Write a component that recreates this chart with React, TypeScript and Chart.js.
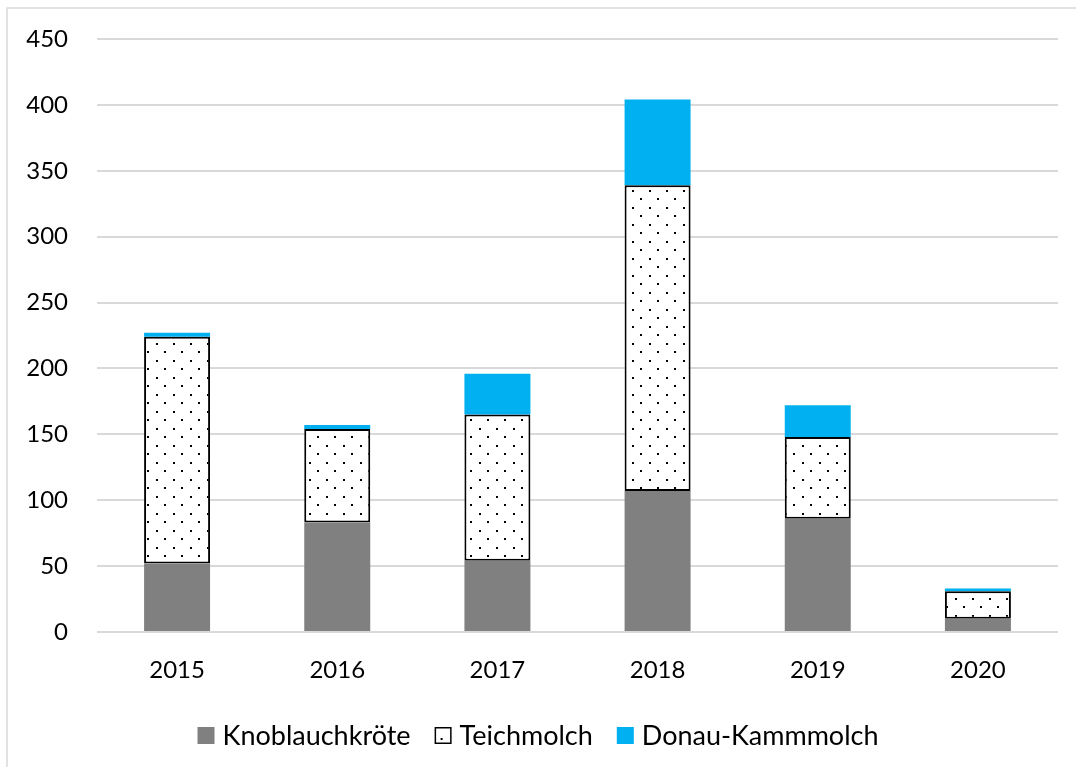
import React, { useEffect, useRef } from 'react';
import { Chart, registerables } from 'chart.js';

Chart.register(...registerables);

const categories = ['2015', '2016', '2017', '2018', '2019', '2020'];
const knoblauchkroete = [52, 83, 54, 107, 86, 10];
const teichmolch = [172, 71, 111, 232, 62, 21];
const donauKammmolch = [3, 3, 31, 65, 24, 2];
const seriesNames = ['Knoblauchkröte', 'Teichmolch', 'Donau-Kammmolch'];
const yMax = 450;
const yStep = 50;

const FONT = 'Lato, "Open Sans", sans-serif';
const GREY = '#808080';
const BLUE = '#00B0F0';
const GRID = '#d9d9d9';

function makeDotPattern(): CanvasPattern | string {
  const c = document.createElement('canvas');
  c.width = 17;
  c.height = 17;
  const x = c.getContext('2d');
  if (!x) return '#fff';
  x.fillStyle = '#fff';
  x.fillRect(0, 0, 17, 17);
  x.fillStyle = '#000';
  x.fillRect(3, 3, 2, 2);
  x.fillRect(11, 11, 2, 2);
  const p = x.createPattern(c, 'repeat');
  return p || '#fff';
}

export default function App() {
  const ref = useRef<HTMLCanvasElement | null>(null);

  useEffect(() => {
    const canvas = ref.current;
    if (!canvas) return;
    const dots = makeDotPattern();

    const framePlugin = {
      id: 'frame',
      beforeDraw(chart: any) {
        const ctx = chart.ctx;
        ctx.save();
        ctx.fillStyle = '#fff';
        ctx.fillRect(0, 0, chart.width, chart.height);
        ctx.strokeStyle = GRID;
        ctx.lineWidth = 1.5;
        ctx.strokeRect(7, 8, 3000, 3000);
        ctx.restore();
      },
    };

    const legendPlugin = {
      id: 'customLegend',
      afterDraw(chart: any) {
        const ctx = chart.ctx;
        ctx.save();
        ctx.font = `27px ${FONT}`;
        const box = 17;
        const gap = 8;
        const spacing = 24;
        const widths = seriesNames.map((n) => ctx.measureText(n).width);
        const total =
          widths.reduce((a, w) => a + box + gap + w, 0) + spacing * (seriesNames.length - 1);
        let x = chart.width / 2 - total / 2;
        const boxTop = 727;
        const midY = 736;
        seriesNames.forEach((name, i) => {
          if (i === 0) {
            ctx.fillStyle = GREY;
            ctx.fillRect(x, boxTop, box, box);
          } else if (i === 1) {
            ctx.fillStyle = '#fff';
            ctx.fillRect(x, boxTop, box, box);
            ctx.strokeStyle = '#000';
            ctx.lineWidth = 1.5;
            ctx.strokeRect(x + 0.75, boxTop + 0.75, box - 1.5, box - 1.5);
            ctx.fillStyle = '#000';
            ctx.fillRect(x + 6, boxTop + 11, 2, 2);
          } else {
            ctx.fillStyle = BLUE;
            ctx.fillRect(x, boxTop, box, box);
          }
          x += box + gap;
          ctx.fillStyle = '#000';
          ctx.textAlign = 'left';
          ctx.textBaseline = 'middle';
          ctx.fillText(name, x, midY);
          x += widths[i] + spacing;
        });
        ctx.restore();
      },
    };

    const chart = new Chart(canvas, {
      type: 'bar',
      data: {
        labels: categories,
        datasets: [
          {
            label: seriesNames[0],
            data: knoblauchkroete,
            backgroundColor: GREY,
            borderWidth: 0,
          },
          {
            label: seriesNames[1],
            data: teichmolch,
            backgroundColor: dots as any,
            borderColor: '#000',
            borderWidth: 2,
            borderSkipped: false,
          },
          {
            label: seriesNames[2],
            data: donauKammmolch,
            backgroundColor: BLUE,
            borderWidth: 0,
          },
        ],
      },
      options: {
        responsive: false,
        animation: false,
        devicePixelRatio: 1,
        layout: { autoPadding: false, padding: { left: 0, right: 18, top: 39, bottom: 0 } },
        datasets: {
          bar: { barPercentage: 0.412, categoryPercentage: 1 },
        },
        plugins: {
          legend: { display: false },
          tooltip: { enabled: false },
        },
        scales: {
          x: {
            stacked: true,
            grid: { display: false, drawTicks: false },
            border: { display: false },
            ticks: {
              color: '#000',
              font: { family: FONT, size: 24 },
              padding: 24,
            },
            afterFit(scale: any) {
              scale.height = 135;
              scale.paddingLeft = 0;
              scale.paddingRight = 0;
            },
          },
          y: {
            stacked: true,
            min: 0,
            max: yMax,
            grid: { color: GRID, lineWidth: 2, drawTicks: false },
            border: { display: false },
            ticks: {
              stepSize: yStep,
              color: '#000',
              font: { family: FONT, size: 24 },
              padding: 29,
            },
            afterFit(scale: any) {
              scale.width = 97;
              scale.paddingTop = 0;
              scale.paddingBottom = 0;
            },
          },
        },
      },
      plugins: [framePlugin, legendPlugin],
    });

    return () => chart.destroy();
  }, []);

  return (
    <div style={{ position: 'fixed', left: 0, top: 0, width: 1076, height: 767, background: '#fff' }}>
      <canvas ref={ref} width={1076} height={767} style={{ display: 'block' }} />
    </div>
  );
}
